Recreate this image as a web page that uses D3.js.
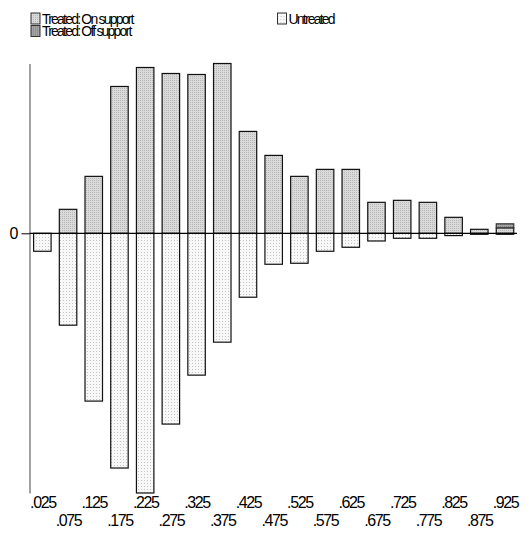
<!DOCTYPE html>
<html>
<head>
    <title>Propensity score graph</title>
    <script src="https://cdn.jsdelivr.net/npm/d3@7"></script>
    <style>
        body { margin: 0; background: #fff; }
        text { font-family: "Liberation Sans", Arial, sans-serif; }
    </style>
</head>
<body>
    <div id="chart"></div>
    <script>
        // propensity score bins (bar centres)
        const bins = [.025, .075, .125, .175, .225, .275, .325, .375, .425, .475,
            .525, .575, .625, .675, .725, .775, .825, .875, .925];
        const binLabels = [".025", ".075", ".125", ".175", ".225", ".275", ".325", ".375", ".425", ".475",
            ".525", ".575", ".625", ".675", ".725", ".775", ".825", ".875", ".925"];
        // treated on support (upwards)
        const treatedOn = [0, 24, 57, 147, 166, 160, 159, 170, 102, 78, 57, 64, 64, 31, 33, 31, 16, 4, 5.5];
        // treated off support (stacked on top)
        const treatedOff = [0, 0, 0, 0, 0, 0, 0, 0, 0, 0, 0, 0, 0, 0, 0, 0, 0, 0, 4];
        // untreated (drawn downwards)
        const untreated = [18, 92, 168, 235, 260, 191, 142, 109, 64, 31, 30, 18, 14, 7.7, 5, 5, 2.3, 1, 1];

        const W = 529, H = 536;
        const svg = d3.select("#chart").append("svg")
            .attr("width", W).attr("height", H);

        // dotted fills
        const defs = svg.append("defs");
        function dots(id, bg, dot, size) {
            const p = defs.append("pattern").attr("id", id)
                .attr("width", size).attr("height", size)
                .attr("patternUnits", "userSpaceOnUse");
            p.append("rect").attr("width", size).attr("height", size).attr("fill", bg);
            p.append("rect").attr("width", 1).attr("height", 1).attr("fill", dot);
        }
        dots("pOn", "#dadada", "#b8b8b8", 2);
        dots("pOff", "#a4a4a4", "#808080", 2);
        dots("pUn", "#f8f8f8", "#c4c4c4", 3);

        const x = d3.scaleLinear().domain([0, 0.925]).range([29.5, 505]);
        const y = d3.scaleLinear().domain([-260, 170]).range([493, 63.5]);
        const bw = x(0.034) - x(0);

        // y axis, only the 0 tick
        const yAxis = svg.append("g")
            .attr("transform", "translate(" + x(0) + ",0)")
            .call(d3.axisLeft(y).tickValues([0]).tickSize(8).tickSizeOuter(0).tickFormat(d3.format("d")));
        yAxis.select(".domain").attr("stroke", "#666").attr("stroke-width", 1.2);
        yAxis.selectAll(".tick line").attr("stroke", "#000");
        yAxis.selectAll(".tick text").attr("font-size", "16px").attr("dx", "0").attr("fill", "#000");

        // untreated bars (down)
        svg.selectAll(".un").data(bins).enter().append("rect")
            .attr("class", "un")
            .attr("x", d => x(d) - bw / 2)
            .attr("y", y(0))
            .attr("width", bw)
            .attr("height", (d, i) => y(-untreated[i]) - y(0))
            .attr("fill", "url(#pUn)").attr("stroke", "#111").attr("stroke-width", 1.2);

        // treated on support (up)
        svg.selectAll(".on").data(bins).enter().append("rect")
            .filter((d, i) => treatedOn[i] > 0)
            .attr("class", "on")
            .attr("x", d => x(d) - bw / 2)
            .attr("y", d => y(treatedOn[bins.indexOf(d)]))
            .attr("width", bw)
            .attr("height", d => y(0) - y(treatedOn[bins.indexOf(d)]))
            .attr("fill", "url(#pOn)").attr("stroke", "#111").attr("stroke-width", 1.2);

        // treated off support
        svg.selectAll(".off").data(bins).enter().append("rect")
            .filter((d, i) => treatedOff[i] > 0)
            .attr("class", "off")
            .attr("x", d => x(d) - bw / 2)
            .attr("y", d => { const i = bins.indexOf(d); return y(treatedOn[i] + treatedOff[i]); })
            .attr("width", bw)
            .attr("height", d => { const i = bins.indexOf(d); return y(treatedOn[i]) - y(treatedOn[i] + treatedOff[i]); })
            .attr("fill", "url(#pOff)").attr("stroke", "#333").attr("stroke-width", 1.2);

        // zero line
        svg.append("line")
            .attr("x1", x(0)).attr("x2", 517)
            .attr("y1", y(0)).attr("y2", y(0))
            .attr("stroke", "#000").attr("stroke-width", 1.2);

        // x labels, alternating rows
        const xAxis = svg.append("g")
            .attr("transform", "translate(0,493)")
            .call(d3.axisBottom(x).tickValues(bins).tickSize(0).tickFormat((d, i) => binLabels[i]));
        xAxis.select(".domain").remove();
        xAxis.selectAll(".tick text")
            .attr("font-size", "16px").attr("letter-spacing", "-1.4px").attr("fill", "#000")
            .attr("y", (d, i) => i % 2 === 0 ? 3.5 : 21.5);

        // legend
        const legend = [
            { name: "Treated: On support", fill: "url(#pOn)", x: 31, y: 13 },
            { name: "Treated: Off support", fill: "url(#pOff)", x: 31, y: 25.5 },
            { name: "Untreated", fill: "url(#pUn)", x: 277.5, y: 13 }
        ];
        const lg = svg.selectAll(".lg").data(legend).enter().append("g")
            .attr("transform", d => "translate(" + d.x + "," + d.y + ")");
        lg.append("rect").attr("width", 9).attr("height", 11)
            .attr("fill", d => d.fill).attr("stroke", "#333").attr("stroke-width", 1);
        lg.append("text").attr("x", 11).attr("y", 10.5)
            .attr("font-size", "14px").attr("letter-spacing", "-1.8px").attr("fill", "#000")
            .text(d => d.name);
    </script>
</body>
</html>
